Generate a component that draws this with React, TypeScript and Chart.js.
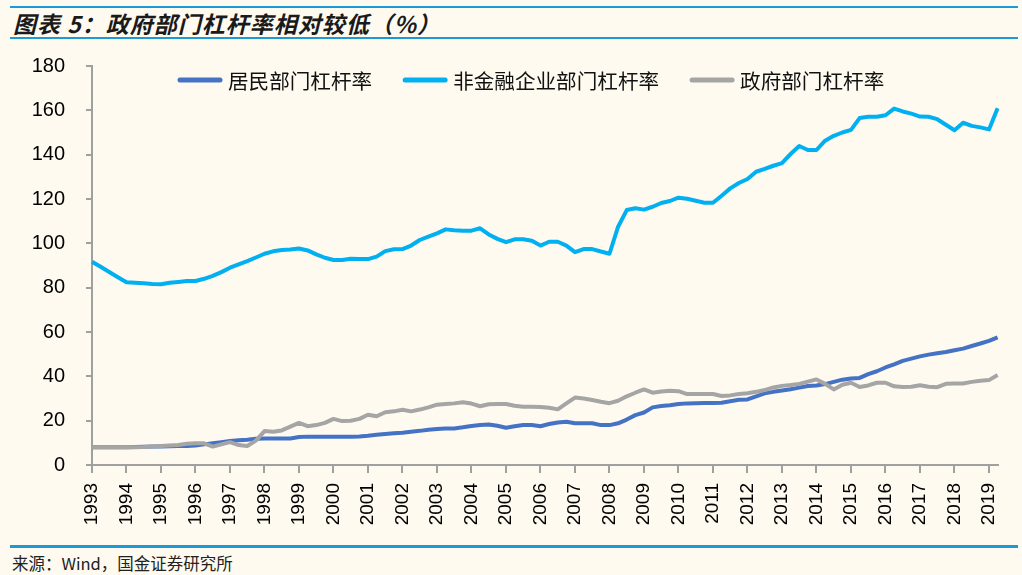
import React, { useEffect, useRef } from 'react';
import { Chart, registerables } from 'chart.js';

Chart.register(...registerables);

const years = [1993, 1994, 1995, 1996, 1997, 1998, 1999, 2000, 2001, 2002, 2003, 2004, 2005, 2006,
  2007, 2008, 2009, 2010, 2011, 2012, 2013, 2014, 2015, 2016, 2017, 2018, 2019];
const quarterNames = ['Q1', 'Q2', 'Q3', 'Q4'];

const seriesNames = ['居民部门杠杆率', '非金融企业部门杠杆率', '政府部门杠杆率'];

const household = [
  8.0, 8.0, 8.0, 8.0,
  8.0, 8.1, 8.2, 8.3,
  8.4, 8.5, 8.6, 8.6,
  8.8, 9.3, 9.8, 10.3,
  10.8, 11.2, 11.4, 11.8,
  12.0, 12.0, 12.0, 12.0,
  12.6, 12.8, 12.8, 12.8,
  12.8, 12.8, 12.8, 12.9,
  13.2, 13.6, 14.0, 14.3,
  14.6, 15.0, 15.4, 15.9,
  16.2, 16.5, 16.5, 17.0,
  17.6, 18.0, 18.3, 17.7,
  16.8, 17.5, 18.0, 18.0,
  17.5, 18.5, 19.2, 19.5,
  18.8, 18.8, 18.8, 18.0,
  18.0, 18.8, 20.5, 22.5,
  23.7, 26.0, 26.6, 27.0,
  27.5, 27.8, 27.9, 28.0,
  28.0, 28.1, 28.8, 29.4,
  29.6, 31.0, 32.3, 33.0,
  33.6, 34.2, 34.9, 35.6,
  35.9, 36.5, 37.5, 38.5,
  39.0, 39.3, 41.0, 42.3,
  44.0, 45.4, 47.0, 48.0,
  49.0, 49.8, 50.4, 51.0,
  51.8, 52.5, 53.7, 54.8,
  56.0, 57.6,
];

const nonFinancial = [
  91.7, 89.4, 87.1, 84.7,
  82.4, 82.2, 82.0, 81.7,
  81.5, 82.2, 82.6, 83.0,
  83.0, 84.0, 85.3, 87.0,
  89.0, 90.5, 92.0, 93.6,
  95.3, 96.4, 97.0, 97.2,
  97.7, 96.8, 95.0, 93.5,
  92.5, 92.5, 93.0, 92.9,
  92.9, 94.0, 96.5, 97.3,
  97.4, 99.0, 101.5, 103.0,
  104.5, 106.3, 105.9, 105.7,
  105.7, 106.8, 104.0, 102.0,
  100.5, 101.8, 101.8, 101.2,
  99.0, 100.7, 100.7, 99.0,
  96.0, 97.4, 97.4, 96.3,
  95.3, 107.5, 115.0, 115.8,
  115.2, 116.5, 118.2, 119.1,
  120.6, 120.1, 119.2, 118.3,
  118.3, 121.5, 124.8, 127.2,
  129.0, 132.3, 133.6, 135.0,
  136.2, 140.3, 143.9, 142.1,
  142.1, 146.3, 148.5, 150.0,
  151.2, 156.5, 157.1, 157.1,
  157.8, 160.8, 159.5, 158.5,
  157.2, 157.1, 156.0, 153.5,
  151.0, 154.4, 153.0, 152.3,
  151.4, 160.9,
];

const government = [
  8.0, 8.0, 8.0, 8.0,
  8.0, 8.0, 8.1, 8.3,
  8.6, 8.8, 9.0, 9.6,
  9.8, 9.8, 8.3, 9.3,
  10.3, 9.0, 8.6, 11.0,
  15.3, 15.0, 15.6, 17.3,
  19.0, 17.5, 18.0, 19.0,
  20.8, 19.8, 20.0, 20.8,
  22.7, 22.0, 23.8, 24.2,
  24.9, 24.2, 25.0, 26.0,
  27.2, 27.5, 27.8, 28.3,
  27.7, 26.5, 27.4, 27.5,
  27.5, 26.7, 26.3, 26.3,
  26.2, 25.8, 25.1, 27.8,
  30.4, 30.0, 29.3, 28.5,
  27.9, 29.0, 31.0, 32.6,
  34.1, 32.6, 33.2, 33.5,
  33.3, 32.0, 32.0, 32.0,
  32.0, 31.1, 31.4, 32.0,
  32.4, 33.0, 33.8, 35.0,
  35.7, 36.1, 36.6, 37.6,
  38.6, 36.6, 34.1, 36.2,
  37.1, 35.2, 35.9, 37.1,
  37.1, 35.5, 35.2, 35.3,
  36.0, 35.3, 35.1, 36.6,
  36.8, 36.8, 37.5, 38.0,
  38.3, 40.6,
];

const seriesColors = ['#4472C4', '#00B0F0', '#A5A5A5'];

const labels = years
  .flatMap((y) => quarterNames.map((q) => `${y}${q}`))
  .slice(0, household.length);

const BG = '#FFFAF0';
const AXIS = '#A0A0A0';
const BLUE_RULE = '#1A9AD6';

const inlineLegend = {
  id: 'inlineLegend',
  afterDraw(chart: any) {
    const ctx = chart.ctx;
    const area = chart.chartArea;
    ctx.save();
    ctx.font = '20.6px "Noto Sans CJK SC", sans-serif';
    ctx.textBaseline = 'middle';
    ctx.textAlign = 'left';
    let x = area.left + 86;
    const y = area.top + 14;
    chart.data.datasets.forEach((ds: any) => {
      ctx.strokeStyle = ds.borderColor;
      ctx.lineWidth = 5;
      ctx.lineCap = 'round';
      ctx.beginPath();
      ctx.moveTo(x + 2, y);
      ctx.lineTo(x + 42, y);
      ctx.stroke();
      ctx.fillStyle = '#111111';
      ctx.fillText(ds.label, x + 50, y + 1);
      x += 50 + ctx.measureText(ds.label).width + 31;
    });
    ctx.restore();
  },
};

function LeverageChart() {
  const ref = useRef<HTMLCanvasElement | null>(null);
  useEffect(() => {
    if (!ref.current) return;
    const datasets = [household, nonFinancial, government].map((values, i) => ({
      label: seriesNames[i],
      data: values,
      borderColor: seriesColors[i],
      backgroundColor: seriesColors[i],
      borderWidth: 4,
      pointRadius: 0,
      pointHoverRadius: 0,
      tension: 0,
      fill: false,
      borderJoinStyle: 'round' as const,
      order: 2 - i,
    }));
    const chart = new Chart(ref.current, {
      type: 'line',
      data: { labels, datasets },
      plugins: [inlineLegend],
      options: {
        responsive: false,
        animation: false,
        devicePixelRatio: 1,
        layout: { padding: { top: 26, right: 23, left: 0, bottom: 0 } },
        plugins: {
          legend: { display: false },
          title: { display: false },
          tooltip: { enabled: false },
        },
        scales: {
          x: {
            type: 'category',
            offset: false,
            afterFit: (scale: any) => {
              scale.height = 80;
            },
            border: { display: true, color: AXIS, width: 2 },
            grid: {
              display: true,
              drawOnChartArea: false,
              drawTicks: true,
              tickLength: 8,
              lineWidth: 2,
              color: (c: any) => (c.tick && c.tick.label ? AXIS : 'rgba(0,0,0,0)'),
            },
            ticks: {
              autoSkip: false,
              maxRotation: 90,
              minRotation: 90,
              padding: 10,
              color: '#000000',
              font: { family: '"Liberation Sans", Arial, sans-serif', size: 19 },
              callback: (_v: any, index: number) => {
                const l = labels[index];
                return l && l.endsWith('Q1') ? l.slice(0, 4) : null;
              },
            },
          },
          y: {
            min: 0,
            max: 180,
            afterFit: (scale: any) => {
              scale.width = 92;
              scale.paddingTop = 0;
              scale.paddingBottom = 0;
            },
            border: { display: true, color: AXIS, width: 2 },
            grid: {
              display: true,
              drawOnChartArea: false,
              drawTicks: true,
              tickLength: 6,
              lineWidth: 2,
              color: AXIS,
            },
            ticks: {
              stepSize: 20,
              padding: 21,
              color: '#000000',
              font: { family: '"Liberation Sans", Arial, sans-serif', size: 20 },
            },
          },
        },
      },
    });
    return () => chart.destroy();
  }, []);
  return <canvas ref={ref} width={1022} height={505} style={{ display: 'block', width: 1022, height: 505 }} />;
}

export default function App() {
  return (
    <div
      style={{
        position: 'absolute',
        left: 0,
        top: 0,
        width: 1022,
        height: 575,
        background: BG,
        overflow: 'hidden',
        fontFamily: '"Noto Sans CJK SC", sans-serif',
      }}
    >
      <div style={{ position: 'absolute', left: 10, top: 6, width: 1008, height: 2, background: BLUE_RULE }} />
      <div
        style={{
          position: 'absolute',
          left: 13,
          top: 9,
          height: 28,
          lineHeight: '28px',
          fontSize: 23,
          fontWeight: 700,
          fontStyle: 'italic',
          letterSpacing: 1,
          color: '#1A1A1A',
          whiteSpace: 'nowrap',
        }}
      >
        图表 5：政府部门杠杆率相对较低（%）
      </div>
      <div style={{ position: 'absolute', left: 10, top: 37, width: 1008, height: 2, background: BLUE_RULE }} />
      <div style={{ position: 'absolute', left: 0, top: 40, width: 1022, height: 505 }}>
        <LeverageChart />
      </div>
      <div style={{ position: 'absolute', left: 10, top: 545, width: 1008, height: 3, background: BLUE_RULE }} />
      <div
        style={{
          position: 'absolute',
          left: 12,
          top: 552,
          height: 22,
          lineHeight: '22px',
          fontSize: 16.5,
          color: '#222222',
          whiteSpace: 'nowrap',
        }}
      >
        来源：Wind，国金证券研究所
      </div>
    </div>
  );
}
